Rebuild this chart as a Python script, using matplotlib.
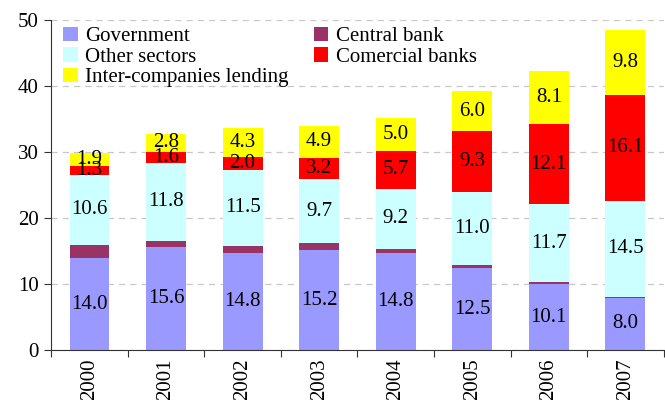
import numpy as np
import matplotlib.pyplot as plt

plt.rcParams['font.family'] = ['Liberation Serif', 'DejaVu Serif']

years = ['2000', '2001', '2002', '2003', '2004', '2005', '2006', '2007']

government = [14.0, 15.6, 14.8, 15.2, 14.8, 12.5, 10.1, 8.0]
central_bank = [2.0, 1.0, 1.0, 1.0, 0.5, 0.4, 0.3, 0.1]
other_sectors = [10.6, 11.8, 11.5, 9.7, 9.2, 11.0, 11.7, 14.5]
commercial_banks = [1.3, 1.6, 2.0, 3.2, 5.7, 9.3, 12.1, 16.1]
intercompany = [1.9, 2.8, 4.3, 4.9, 5.0, 6.0, 8.1, 9.8]

series = [
    ('Government', government, '#9999FF', True),
    ('Central bank', central_bank, '#993366', False),
    ('Other sectors', other_sectors, '#CCFFFF', True),
    ('Comercial banks', commercial_banks, '#FF0000', True),
    ('Inter-companies lending', intercompany, '#FFFF00', True),
]

FS = 15

fig = plt.figure(figsize=(6.65, 4.0), dpi=100)
ax = fig.add_axes([0.077, 0.124, 0.921, 0.826])

x = np.arange(len(years))
bottom = np.zeros(len(years))
for name, vals, color, labelled in series:
    vals = np.array(vals)
    ax.bar(x, vals, width=0.52, bottom=bottom, color=color, label=name, zorder=2)
    if labelled:
        for xi, b, v in zip(x, bottom, vals):
            ax.text(xi, b + v / 2, f'{v:.1f}', ha='center', va='center',
                    fontsize=FS, zorder=3)
    bottom += vals

ax.set_ylim(0, 50)
ax.set_xlim(-0.5, len(years) - 0.5)
ax.set_yticks(range(0, 51, 10))
ax.yaxis.grid(True, linestyle=(0, (5, 4)), color='#c8c8c8', linewidth=0.9, zorder=0)
ax.set_axisbelow(True)

# years sit between the boundary ticks
ax.set_xticks(np.arange(len(years) + 1) - 0.5)
ax.set_xticklabels([])
ax.set_xticks(x, minor=True)
ax.set_xticklabels(years, minor=True, rotation=90, fontsize=FS)
ax.tick_params(axis='x', which='minor', length=0, pad=6)
ax.tick_params(axis='x', which='major', length=5, color='#333333')
ax.tick_params(axis='y', labelsize=FS, length=5, color='#333333', pad=4)

for side in ['top', 'right']:
    ax.spines[side].set_visible(False)
for side in ['left', 'bottom']:
    ax.spines[side].set_color('#333333')

handles, labels = ax.get_legend_handles_labels()
order = [0, 2, 4, 1, 3]
ax.legend([handles[i] for i in order], [labels[i] for i in order],
          ncol=2, loc='upper left', bbox_to_anchor=(0.02, 0.98),
          frameon=False, fontsize=FS, handlelength=0.7, handleheight=0.7,
          handletextpad=0.35, columnspacing=1.2, labelspacing=0.05,
          borderpad=0.0, borderaxespad=0.0)

plt.savefig('out.png', dpi=100)
